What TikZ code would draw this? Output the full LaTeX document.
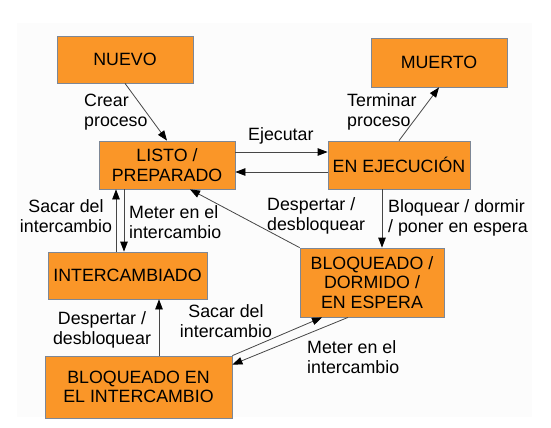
\documentclass[tikz,border=0pt]{standalone}
\usepackage{fontspec}
\setmainfont{Liberation Sans}
\usetikzlibrary{arrows.meta}
\definecolor{naranja}{RGB}{250,150,40}
\definecolor{borde}{RGB}{125,135,150}
\definecolor{linea}{RGB}{70,70,70}
\definecolor{fondo}{RGB}{252,252,252}

\begin{document}
\begin{tikzpicture}[
    x=1bp, y=-1bp, >={Triangle[length=10bp,width=7.5bp,color=black]},
    every node/.style={font=\fontsize{17.8bp}{19.7bp}\selectfont},
    estado/.style={draw=borde, fill=naranja, line width=0.8bp, inner sep=0pt, align=center},
    etiq/.style={inner sep=0pt},
    flecha/.style={->, draw=linea, line width=0.8bp}
]
\useasboundingbox (0,0) rectangle (551,427);
\fill[fondo] (17,23) rectangle (532,417);

% estados
\node[estado, minimum width=136bp, minimum height=47bp] (nuevo) at (125,59.5) {NUEVO};
\node[estado, minimum width=136bp, minimum height=49bp] (muerto) at (439,62.5) {MUERTO};
\node[estado, minimum width=136bp, minimum height=48bp] (listo) at (167,165) {LISTO /\\PREPARADO};
\node[estado, minimum width=142bp, minimum height=48bp] (ejec) at (399,165) {EN EJECUCIÓN};
\node[estado, minimum width=159bp, minimum height=47bp] (intercambiado) at (127.5,275.5) {INTERCAMBIADO};
\node[estado, minimum width=144bp, minimum height=69bp] (bloqueado) at (372,282.5) {BLOQUEADO /\\DORMIDO /\\EN ESPERA};
\node[estado, minimum width=187bp, minimum height=62bp] (bloqint) at (138.5,387) {BLOQUEADO EN\\EL INTERCAMBIO};

% etiquetas (base = ultima linea)
\node[etiq, anchor=base west, align=left] (crear) at (84,126.5) {Crear\\proceso};
\node[etiq, anchor=base west, align=left] (terminar) at (347,126) {Terminar\\proceso};
\node[etiq, anchor=base west] (ejecutar) at (248,140) {Ejecutar};
\node[etiq, anchor=base, align=center] (sacar1) at (66,232) {Sacar del\\intercambio};
\node[etiq, anchor=base west, align=left] (meter1) at (129,238) {Meter en el\\intercambio};
\node[etiq, anchor=base west, align=left] (despertar1) at (267,230) {Despertar /\\desbloquear};
\node[etiq, anchor=base west, align=left] (bloquear) at (388,232) {Bloquear / dormir\\/ poner en espera};
\node[etiq, anchor=base, align=center] (despertar2) at (102,344) {Despertar /\\desbloquear};
\node[etiq, anchor=base, align=center] (sacar2) at (226,337) {Sacar del\\intercambio};
\node[etiq, anchor=base west, align=left] (meter2) at (307,373) {Meter en el\\intercambio};

% transiciones
\coordinate (ux) at (116,0);
\coordinate (dx) at (124,0);
\coordinate (bx) at (382,0);
\coordinate (wx) at (159,0);

\draw[flecha] (nuevo.south) -- (listo.north);
\draw[flecha] ([yshift=13bp]listo.east) -- ([yshift=13bp]ejec.west);
\draw[flecha] ([yshift=-7bp]ejec.west) -- ([yshift=-7bp]listo.east);
\draw[flecha] (ejec.north) -- (muerto.south);
\draw[flecha] (ux |- intercambiado.north) -- (ux |- listo.south);
\draw[flecha] (dx |- listo.south) -- (dx |- intercambiado.north);
\draw[flecha] (bx |- ejec.south) -- (bx |- bloqueado.north);
\draw[flecha] (bloqueado.north west) -- ([xshift=23bp]listo.south);
\draw[flecha] (wx |- bloqint.north) -- (wx |- intercambiado.south);
\draw[flecha] (bloqint.north east) -- ([xshift=-50bp]bloqueado.south);
\draw[flecha] ([xshift=-24bp]bloqueado.south) -- ([yshift=-9bp]bloqint.north east);
\end{tikzpicture}
\end{document}
